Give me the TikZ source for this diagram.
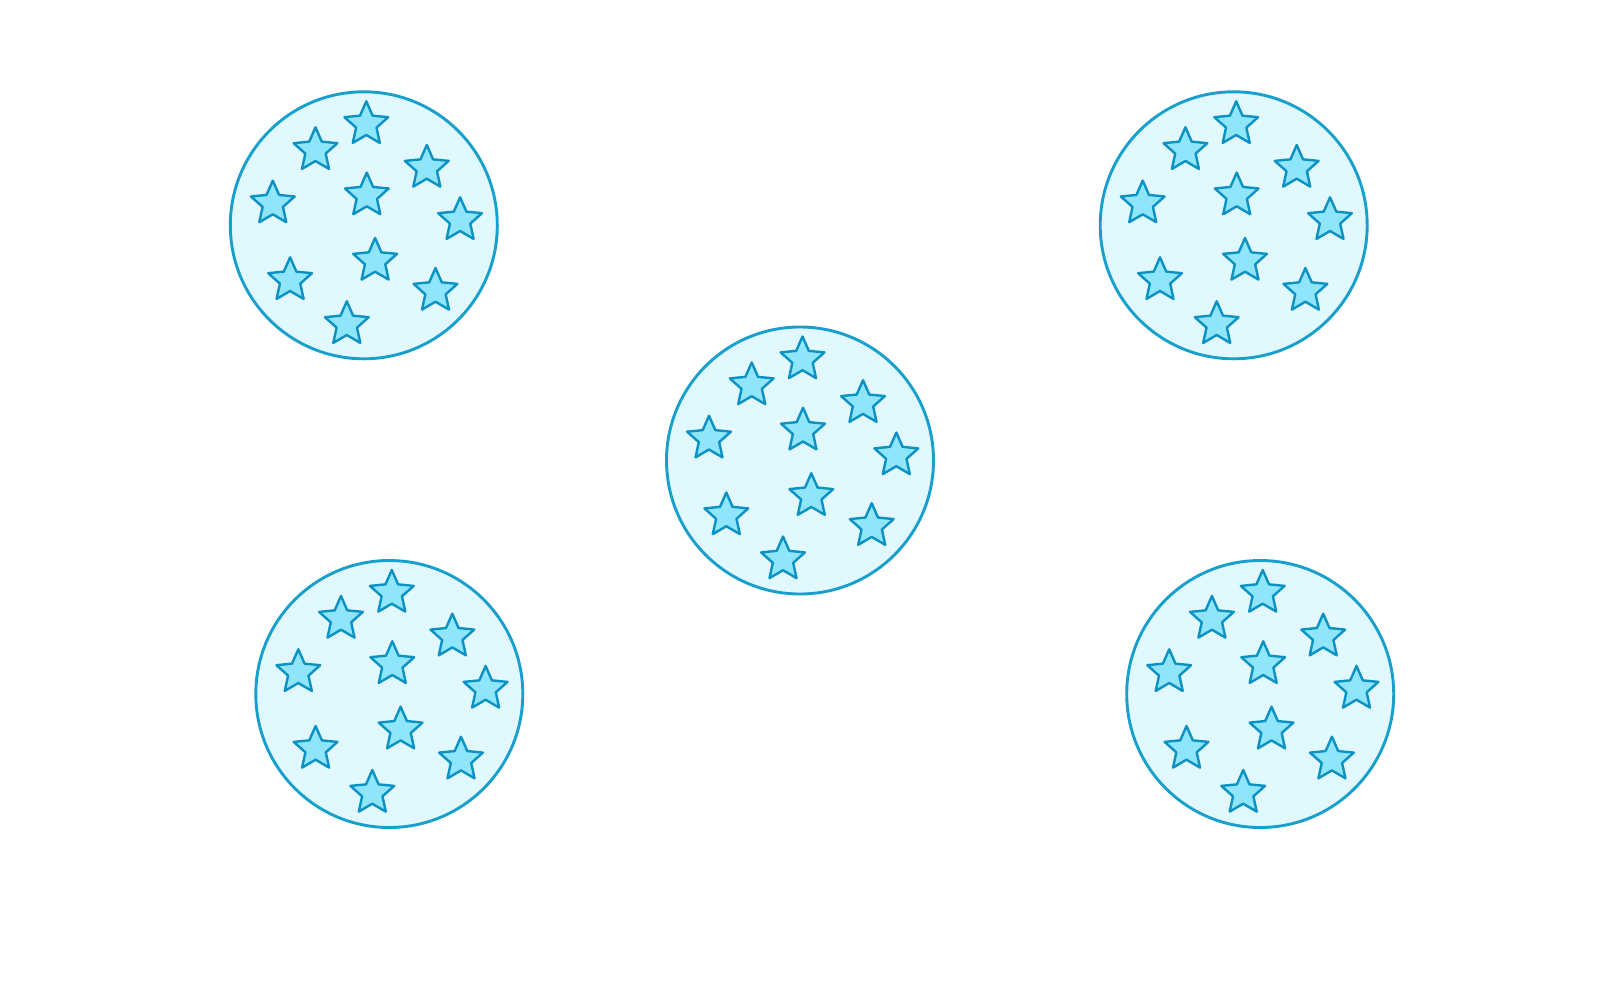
\documentclass[tikz,border=0pt]{standalone}
\usetikzlibrary{shapes.geometric}

\definecolor{rimblue}{HTML}{18A0CC}
\definecolor{bubblefill}{HTML}{E0F8FE}
\definecolor{starfill}{HTML}{8FE6FB}
\definecolor{starline}{HTML}{0C92C2}

\tikzset{
  bubble/.style={circle,draw=rimblue,fill=bubblefill,line width=2.9pt,
    minimum size=267pt,inner sep=0pt},
  starmark/.style={star,star points=5,star point ratio=2.15,draw=starline,
    fill=starfill,line width=2.4pt,minimum size=46pt,inner sep=0pt,
    line join=round}
}

\begin{document}
\begin{tikzpicture}[x=1pt,y=-1pt]
  \useasboundingbox[fill=white] (0,0) rectangle (1600,999);
  \foreach \cx/\cy/\n in {363.8/225.3/tl,1233.7/225.3/tr,800/460.5/mid,389.3/694/bl,1260.2/694/br}
  {
    \node[bubble] (\n) at (\cx,\cy) {};
    \foreach \dx/\dy [count=\i] in {2.5/-101,-48.3/-75,63/-57.3,3/-29.7,-91/-21.7,
      96.3/-5,11.3/35.7,-73.7/55,71.7/65.7,-17/99}
    {
      \node[starmark] (\n-\i) at (\cx+\dx,\cy+\dy) {};
    }
  }
\end{tikzpicture}
\end{document}
